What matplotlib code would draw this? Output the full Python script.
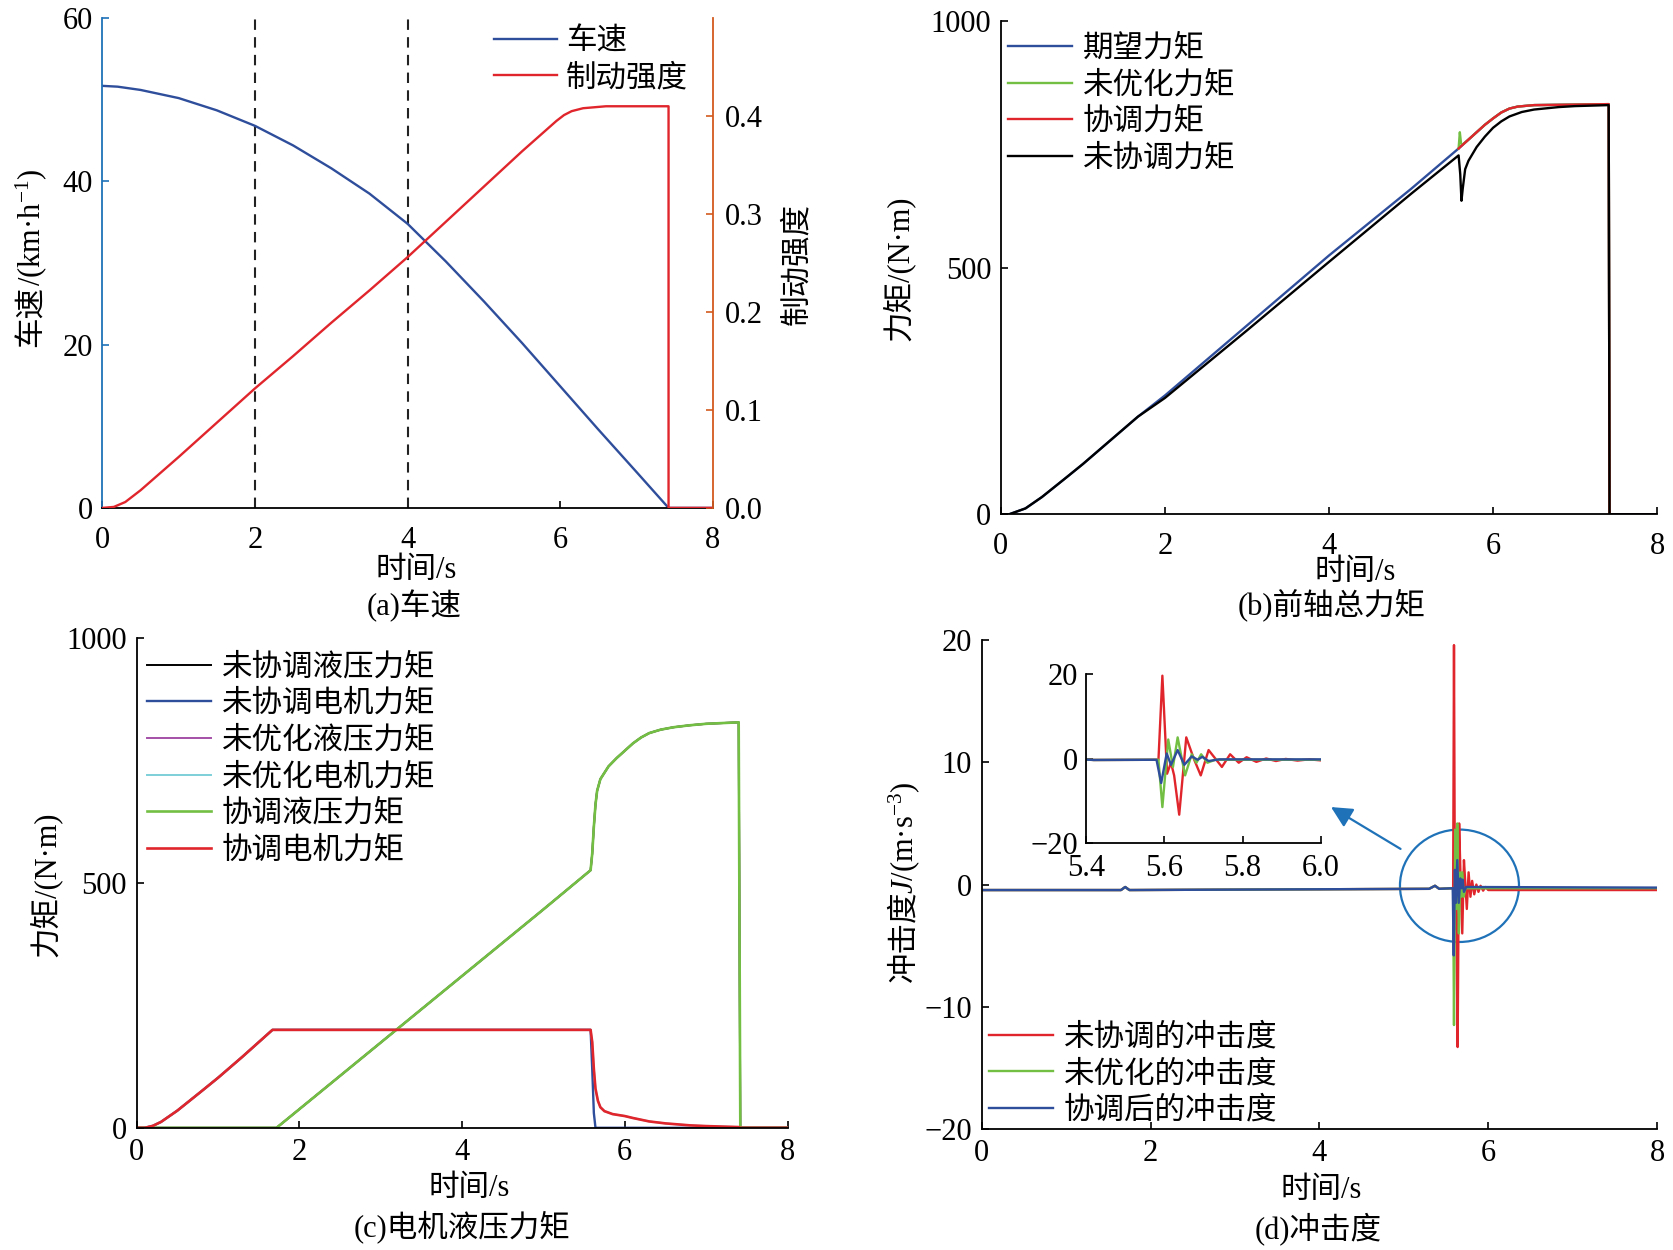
import matplotlib.pyplot as plt
from matplotlib.patches import Ellipse

plt.rcParams['font.family'] = ['Liberation Serif', 'Noto Sans CJK SC']
plt.rcParams['mathtext.fontset'] = 'custom'
plt.rcParams['mathtext.rm'] = 'Liberation Serif'
plt.rcParams['mathtext.it'] = 'Liberation Serif:italic'
plt.rcParams['font.size'] = 22
plt.rcParams['axes.linewidth'] = 1.3

BLUE = '#2E4D9B'
RED = '#E0262C'
GREEN = '#72BF44'
PURPLE = '#A350A8'
CYAN = '#7DCFD9'
AX_BLUE = '#1F72B8'
AX_ORANGE = '#D35A1F'

# (a) vehicle speed and braking intensity
t_speed = [0, 0.2, 0.5, 1.0, 1.5, 2.0, 2.5, 3.0, 3.5, 4.0, 4.5, 5.0, 5.5, 6.0, 6.5, 7.0, 7.42, 8.0]
speed = [51.7, 51.6, 51.2, 50.2, 48.7, 46.8, 44.4, 41.6, 38.5, 34.8, 30.2, 25.3, 20.2, 14.9, 9.6, 4.4, 0.0, 0.0]
t_brake = [0, 0.15, 0.3, 0.5, 1.0, 1.5, 2.0, 2.5, 3.0, 3.5, 4.0, 4.5, 5.0, 5.5, 5.95, 6.05, 6.15, 6.3, 6.6,
           7.42, 7.42, 8.0]
brake = [0, 0.001, 0.006, 0.018, 0.052, 0.087, 0.122, 0.155, 0.189, 0.222, 0.256, 0.292, 0.328, 0.364, 0.395,
         0.401, 0.405, 0.408, 0.41, 0.41, 0.0, 0.0]

# (b) front axle total torque
t_desired = [0, 0.1, 0.3, 0.5, 0.8, 1.0, 1.3, 1.67, 2.0, 3.0, 4.0, 5.0, 5.58, 5.7, 5.8, 5.9, 6.0, 6.1, 6.2,
             6.3, 6.5, 7.0, 7.41, 7.42, 8.0]
torque_desired = [0, 0, 12, 35, 75, 102, 145, 198, 241, 383, 525, 660, 742, 760, 775, 790, 803, 815, 823, 827,
                  830, 831, 832, 0, 0]
t_unopt = [5.58, 5.595, 5.61, 5.63, 5.7, 5.8, 5.9, 6.0, 6.1, 6.2, 6.3, 6.5, 7.0, 7.41, 7.42, 8.0]
torque_unopt = [742, 775, 752, 750, 760, 775, 790, 803, 815, 823, 827, 830, 831, 832, 0, 0]
t_coord = [5.58, 5.7, 5.8, 5.9, 6.0, 6.1, 6.2, 6.3, 6.5, 7.0, 7.41, 7.42, 8.0]
torque_coord = [742, 760, 775, 790, 803, 815, 823, 827, 830, 831, 832, 0, 0]
t_uncoord = [0, 0.1, 0.3, 0.5, 0.8, 1.0, 1.3, 1.67, 2.0, 3.0, 4.0, 5.0, 5.58, 5.6, 5.615, 5.63, 5.66, 5.7, 5.8,
             5.9, 6.0, 6.1, 6.2, 6.35, 6.5, 6.8, 7.0, 7.41, 7.42, 8.0]
torque_uncoord = [0, 0, 12, 35, 75, 102, 145, 198, 236, 373, 512, 650, 728, 690, 636, 660, 700, 717, 745, 766,
                  784, 797, 807, 816, 821, 826, 828, 830, 0, 0]

# (c) motor and hydraulic torque
t_motor = [0, 0.1, 0.2, 0.3, 0.5, 0.8, 1.0, 1.3, 1.67, 5.58, 5.6, 5.62, 5.64, 5.67, 5.7, 5.75, 5.85, 6.0, 6.1,
           6.3, 6.5, 6.8, 7.0, 7.4, 7.42, 8.0]
motor_coord = [0, 0, 4, 12, 35, 75, 102, 145, 200, 200, 175, 120, 80, 55, 42, 34, 28, 24, 20, 13, 9, 5, 3.5, 1.5,
               0, 0]
t_motor_unc = [0, 0.1, 0.2, 0.3, 0.5, 0.8, 1.0, 1.3, 1.67, 5.58, 5.6, 5.62, 5.64, 8.0]
motor_uncoord = [0, 0, 4, 12, 35, 75, 102, 145, 200, 200, 120, 30, 0, 0]
t_hyd = [0, 1.72, 2.0, 3.0, 4.0, 5.0, 5.58, 5.6, 5.62, 5.64, 5.66, 5.7, 5.8, 5.9, 6.0, 6.1, 6.2, 6.3, 6.44, 6.6,
         6.8, 7.0, 7.4, 7.42, 8.0]
hyd_coord = [0, 0, 38, 174, 310, 446, 526, 560, 615, 660, 688, 712, 738, 755, 770, 785, 797, 806, 813, 818, 822,
             825, 828, 0, 0]

# (d) jerk
t_jerk_red = [0, 1.65, 1.7, 1.75, 3.5, 5.3, 5.37, 5.42, 5.585, 5.595, 5.607, 5.617, 5.625, 5.638, 5.656, 5.675,
              5.693, 5.713, 5.73, 5.747, 5.768, 5.79, 5.81, 5.835, 5.86, 5.885, 5.91, 5.94, 5.97, 6.0, 8.0]
jerk_red = [-0.45, -0.45, -0.2, -0.45, -0.4, -0.35, -0.1, -0.35, -0.3, 19.6, -3.6, -1.0, -4.0, -13.3, 5.0, 0.0,
            -4.0, 2.0, 0.0, -2.0, 1.0, -1.0, 0.3, -0.8, 0.0, -0.6, -0.1, -0.5, -0.2, -0.45, -0.45]
t_jerk_green = [0, 1.65, 1.7, 1.75, 3.5, 5.3, 5.37, 5.42, 5.585, 5.595, 5.61, 5.622, 5.634, 5.653, 5.67, 5.682,
                5.694, 5.71, 5.73, 8.0]
jerk_green = [-0.45, -0.45, -0.2, -0.45, -0.4, -0.35, -0.1, -0.35, -0.3, -11.5, 4.5, -2.0, 5.0, -4.0, 1.0, -1.0,
              1.0, -1.0, -0.3, -0.3]
t_jerk_blue = [0, 1.65, 1.7, 1.75, 3.5, 5.3, 5.37, 5.42, 5.58, 5.592, 5.606, 5.617, 5.634, 5.651, 5.67, 5.685,
               5.697, 5.713, 5.74, 8.0]
jerk_blue = [-0.45, -0.45, -0.2, -0.45, -0.4, -0.35, -0.1, -0.35, -0.3, -5.8, 1.2, -1.5, 2.0, -1.5, 0.5, -0.3,
             0.4, -0.6, -0.2, -0.25]

W, H = 1673, 1250
fig = plt.figure(figsize=(W / 100, H / 100), dpi=100)


def box(left, top, right, bottom):
    return [left / W, 1 - bottom / H, (right - left) / W, (bottom - top) / H]


def style(ax, xpad=9, ypad=7):
    for s in ['top', 'right']:
        ax.spines[s].set_visible(False)
    ax.tick_params(direction='in', length=5, width=1.2)
    ax.tick_params(axis='x', pad=xpad)
    ax.tick_params(axis='y', pad=ypad)


def vlabel(ax, x, y, parts, shift=0):
    prev = ax.text(x, y, parts[0], transform=ax.transAxes, rotation=90, rotation_mode='anchor',
                   ha='left', va='baseline')
    for p in parts[1:]:
        prev = ax.annotate(p, xy=(x, 1), xycoords=('axes fraction', prev), xytext=(0, shift),
                           textcoords='offset points', rotation=90, rotation_mode='anchor',
                           ha='left', va='baseline')


def legend(ax, x, y, handles=None):
    kw = dict(loc='upper left', bbox_to_anchor=(x, y), frameon=False, borderpad=0, borderaxespad=0,
              handlelength=2.1, handletextpad=0.35, labelspacing=0.25, fontsize=22)
    if handles is not None:
        kw['handles'] = handles
    ax.legend(**kw)


def caption(xc, y1, y2, text):
    fig.text(xc[0] / W, 1 - y1 / H, '时间/s', ha='center', va='center')
    fig.text(xc[1] / W, 1 - y2 / H, text, ha='center', va='center')


# ---- (a)
ax = fig.add_axes(box(102.4, 18.1, 712.8, 507.9))
ax2 = ax.twinx()
style(ax, xpad=13)
ax.spines['left'].set_color(AX_BLUE)
ax.tick_params(axis='y', color=AX_BLUE)
ax.axvline(2, color='#222222', lw=1.5, ls=(0, (5, 3.5)))
ax.axvline(4, color='#222222', lw=1.5, ls=(0, (5, 3.5)))
l1, = ax.plot(t_speed, speed, color=BLUE, lw=1.7, label='车速')
l2, = ax2.plot(t_brake, brake, color=RED, lw=1.7, label='制动强度')
ax.set_xlim(0, 8)
ax.set_ylim(0, 60)
ax.set_yticks([0, 20, 40, 60])
ax.set_xticks([0, 2, 4, 6, 8])
ax2.set_ylim(0, 0.5)
ax2.set_yticks([0, 0.1, 0.2, 0.3, 0.4])
ax2.set_yticklabels(['0.0', '0.1', '0.2', '0.3', '0.4'])
for s in ['top', 'left', 'bottom']:
    ax2.spines[s].set_visible(False)
ax2.spines['right'].set_color(AX_ORANGE)
ax2.tick_params(axis='y', direction='in', length=5, width=1.2, color=AX_ORANGE, pad=9)
vlabel(ax, -0.102, 0.329, ['车速', '/(km·h$^{-1}$)'])
ax2.text(1.151, 0.498, '制动强度', transform=ax2.transAxes, rotation=90, rotation_mode='anchor',
         ha='center', va='baseline')
ax2.legend(handles=[l1, l2], loc='upper left', bbox_to_anchor=(0.6415, 0.981), frameon=False, borderpad=0,
           borderaxespad=0, handlelength=2.05, handletextpad=0.3, labelspacing=0.25, fontsize=22)
caption((416, 414), 571, 605.5, '(a)车速')

# ---- (b)
ax = fig.add_axes(box(1000.9, 21.3, 1657.1, 514.3))
style(ax, xpad=13)
ax.plot(t_desired, torque_desired, color=BLUE, lw=1.7, label='期望力矩')
ax.plot(t_unopt, torque_unopt, color=GREEN, lw=1.7, label='未优化力矩')
ax.plot(t_coord, torque_coord, color=RED, lw=1.7, label='协调力矩')
ax.plot(t_uncoord, torque_uncoord, color='black', lw=1.7, label='未协调力矩')
ax.set_xlim(0, 8)
ax.set_ylim(0, 1000)
ax.set_xticks([0, 2, 4, 6, 8])
ax.set_yticks([0, 500, 1000])
ax.text(-0.1416, 0.5, '力矩/(N·m)', transform=ax.transAxes, rotation=90, rotation_mode='anchor',
        ha='center', va='baseline')
legend(ax, 0.011, 0.973)
caption((1355, 1332), 572, 605, '(b)前轴总力矩')

# ---- (c)
ax = fig.add_axes(box(136.6, 638.1, 787.5, 1127.8))
style(ax, xpad=7.5)
ax.plot(t_hyd, hyd_coord, color='black', lw=1.4, label='未协调液压力矩')
ax.plot(t_motor_unc, motor_uncoord, color=BLUE, lw=1.7, label='未协调电机力矩')
ax.plot(t_hyd, hyd_coord, color=PURPLE, lw=1.4, label='未优化液压力矩')
ax.plot(t_motor, motor_coord, color=CYAN, lw=1.4, label='未优化电机力矩')
ax.plot(t_hyd, hyd_coord, color=GREEN, lw=1.9, label='协调液压力矩')
ax.plot(t_motor, motor_coord, color=RED, lw=1.9, label='协调电机力矩')
ax.set_xlim(0, 8)
ax.set_ylim(0, 1000)
ax.set_xticks([0, 2, 4, 6, 8])
ax.set_yticks([0, 500, 1000])
ax.text(-0.126, 0.498, '力矩/(N·m)', transform=ax.transAxes, rotation=90, rotation_mode='anchor',
        ha='center', va='baseline')
legend(ax, 0.016, 0.969)
caption((469, 462), 1188, 1227, '(c)电机液压力矩')

# ---- (d)
ax = fig.add_axes(box(981.7, 640.2, 1657, 1128.9))
style(ax, xpad=7.5)
ax.plot(t_jerk_red, jerk_red, color=RED, lw=1.7, label='未协调的冲击度')
ax.plot(t_jerk_green, jerk_green, color=GREEN, lw=1.7, label='未优化的冲击度')
ax.plot(t_jerk_blue, jerk_blue, color=BLUE, lw=1.7, label='协调后的冲击度')
ax.set_xlim(0, 8)
ax.set_ylim(-20, 20)
ax.set_xticks([0, 2, 4, 6, 8])
ax.set_yticks([-20, -10, 0, 10, 20])
ax.add_patch(Ellipse((5.66, -0.1), 1.41, 9.2, fill=False, ec=AX_BLUE, lw=1.6))
ax.annotate('', xy=(4.11, 6.46), xytext=(4.99, 2.8),
            arrowprops=dict(arrowstyle='-|>', color=AX_BLUE, lw=1.6, mutation_scale=32))
vlabel(ax, -0.102, 0.30, ['冲击度', '$J$/(m·s$^{-3}$)'], shift=-2.5)
legend(ax, 0.011, 0.216)
caption((1321, 1318), 1190, 1229, '(d)冲击度')

ins = fig.add_axes(box(1086, 674, 1321, 843))
style(ins, xpad=8, ypad=6)
ins.plot(t_jerk_red, jerk_red, color=RED, lw=1.7)
ins.plot(t_jerk_green, jerk_green, color=GREEN, lw=1.7)
ins.plot(t_jerk_blue, jerk_blue, color=BLUE, lw=1.7)
ins.set_xlim(5.4, 6.0)
ins.set_ylim(-20, 20)
ins.set_xticks([5.4, 5.6, 5.8, 6.0])
ins.set_xticklabels(['5.4', '5.6', '5.8', '6.0'])
ins.set_yticks([-20, 0, 20])

fig.savefig('out.png', dpi=100)
